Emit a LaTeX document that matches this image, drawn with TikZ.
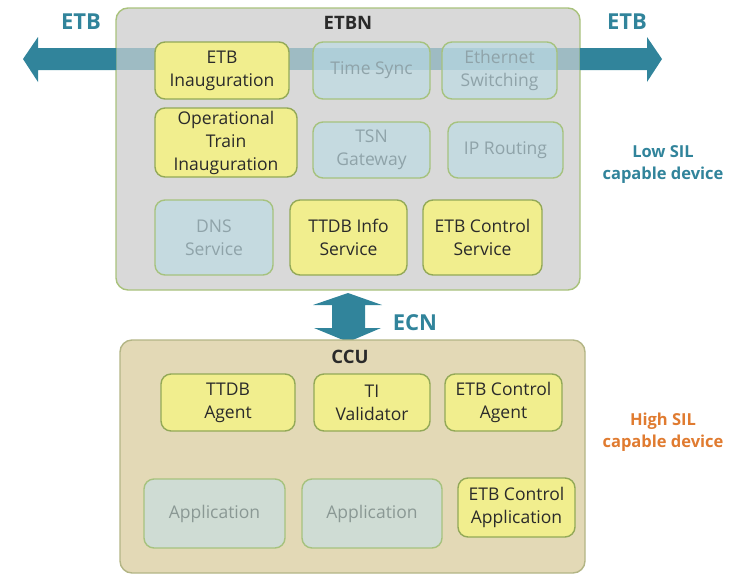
\documentclass[tikz,border=0pt]{standalone}
\usepackage{fontspec}
\setmainfont{Open Sans}
\definecolor{teal}{HTML}{31849B}
\definecolor{etbngray}{HTML}{D9D9D9}
\definecolor{etbnline}{HTML}{A9C27C}
\definecolor{ccufill}{HTML}{E3D9B6}
\definecolor{cculine}{HTML}{B3B585}
\definecolor{yfill}{HTML}{F1EE8E}
\definecolor{yline}{HTML}{93A957}
\definecolor{bfill}{HTML}{B9DCE6}
\definecolor{bline}{HTML}{A6C27E}
\definecolor{btext}{HTML}{8FA3A9}
\definecolor{afill}{HTML}{CFDCD4}
\definecolor{atext}{HTML}{8A9894}
\definecolor{orangetext}{HTML}{E07B30}
\definecolor{darktext}{HTML}{2A2A2A}
\begin{document}
\begin{tikzpicture}[x=1pt,y=-1pt,
  txt/.style={font=\fontsize{17.5}{23}\selectfont},
  frame/.style={rounded corners=12pt, line width=1.4pt},
  svc/.style={txt, rounded corners=10pt, line width=1.4pt, align=center,
              inner sep=0pt},
  ybox/.style={svc, draw=yline, fill=yfill, text=darktext},
  bbox/.style={svc, draw=bline, fill=bfill, fill opacity=0.6, text opacity=1, text=btext},
  abox/.style={svc, draw=bline, fill=afill, text=atext},
  title/.style={font=\fontsize{18.5}{22}\selectfont\bfseries, text=darktext},
  buslabel/.style={font=\fontsize{22}{26}\selectfont\bfseries, text=teal},
  sil/.style={font=\fontsize{16.5}{22}\selectfont\bfseries, align=center}]
\useasboundingbox (0,0) rectangle (734,574);

% ETBN device
\draw[frame, draw=etbnline, fill=etbngray] (116,8) rectangle (580,290);
\node[title] (etbn) at (348,23) {ETBN};

% ETB backbone: solid outside the device, translucent across it
\coordinate (etbL) at (23,59);
\coordinate (etbR) at (662,59);
\fill[teal] (etbL) -- (38,37) -- (38,48) -- (116,48) -- (116,70) -- (38,70) -- (38,82) -- cycle;
\fill[teal] (etbR) -- (647,37) -- (647,48) -- (580,48) -- (580,70) -- (647,70) -- (647,82) -- cycle;
\fill[teal, opacity=0.35] (116,48) rectangle (580,70);
\node[buslabel] (etbLl) at (81,22) {ETB};
\node[buslabel] (etbRl) at (627,22) {ETB};

\node[ybox, minimum width=134pt, minimum height=57pt] (etbi) at (222,70.5) {ETB\\Inauguration};
\node[bbox, minimum width=117pt, minimum height=57pt] (tsync) at (371.5,70.5) {Time Sync};
\node[bbox, minimum width=115pt, minimum height=57pt] (eths) at (499.5,70.5) {Ethernet\\Switching};
\node[ybox, minimum width=142pt, minimum height=69pt] (oti) at (226,142.5) {Operational\\Train\\Inauguration};
\node[bbox, minimum width=117pt, minimum height=56pt] (tsn) at (371.5,150) {TSN\\Gateway};
\node[bbox, minimum width=115pt, minimum height=56pt] (iproute) at (505.5,150) {IP Routing};
\node[bbox, minimum width=118pt, minimum height=75pt] (dns) at (214,237.5) {DNS\\Service};
\node[ybox, minimum width=117pt, minimum height=75pt] (ttdbi) at (348.5,237.5) {TTDB Info\\Service};
\node[ybox, minimum width=119pt, minimum height=75pt] (etbcs) at (482.5,237.5) {ETB Control\\Service};

\node[sil, text=teal] (lowsil) at (663,165) {Low SIL\\capable device};

% ECN link between the two devices
\fill[teal] (348,293) -- (382,305) -- (365,305) -- (365,328) -- (381,328)
  -- (348,342) -- (314,328) -- (332,328) -- (332,305) -- (313,305) -- cycle;
\node[buslabel] (ecn) at (415,323) {ECN};

% CCU device
\draw[frame, draw=cculine, fill=ccufill] (120,340) rectangle (585,573);
\node[title] (ccu) at (350,357) {CCU};

\node[ybox, minimum width=134pt, minimum height=57pt] (ttdba) at (228,402.5) {TTDB\\Agent};
\node[ybox, minimum width=116pt, minimum height=57pt] (tival) at (372,402.5) {TI\\Validator};
\node[ybox, minimum width=117pt, minimum height=57pt] (etbca) at (503.5,402.5) {ETB Control\\Agent};
\node[abox, minimum width=141pt, minimum height=69pt] (app1) at (214.5,513.5) {Application};
\node[abox, minimum width=140pt, minimum height=69pt] (app2) at (372,513.5) {Application};
\node[ybox, minimum width=117pt, minimum height=59pt] (etbcapp) at (516.5,507.5) {ETB Control\\Application};

\node[sil, text=orangetext] (highsil) at (663,432) {High SIL\\capable device};
\end{tikzpicture}
\end{document}
